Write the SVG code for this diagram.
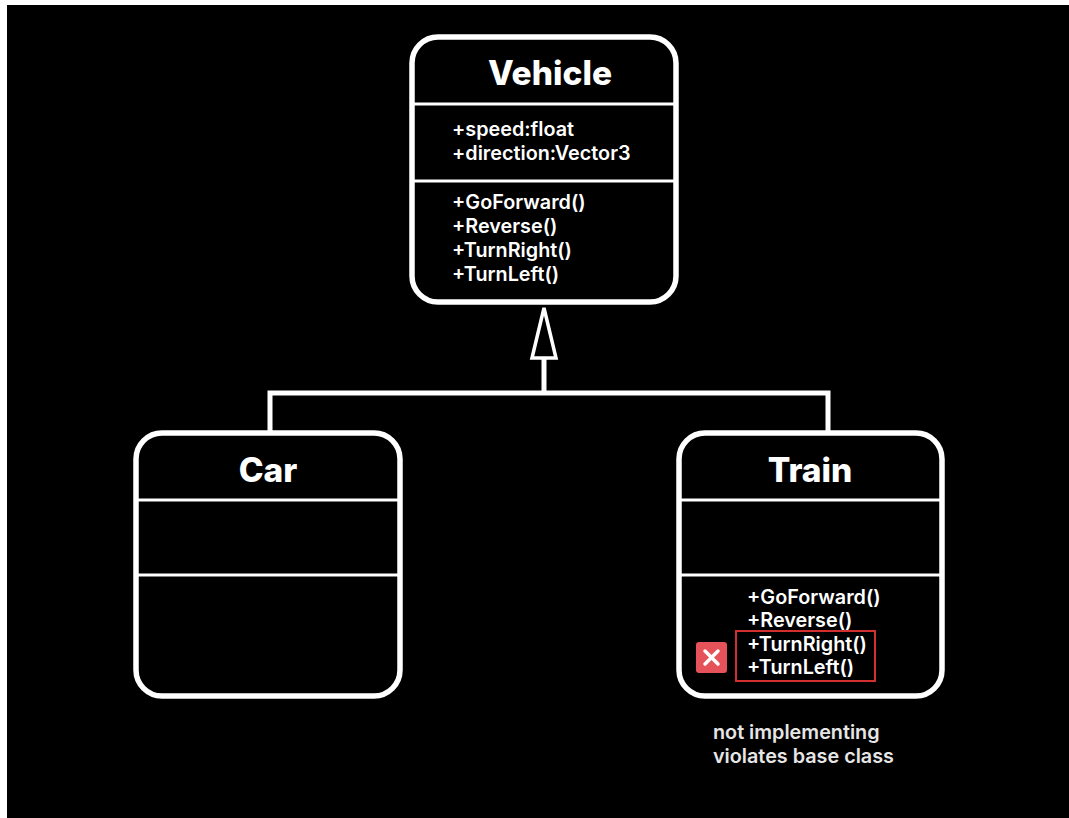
<svg xmlns="http://www.w3.org/2000/svg" width="1069" height="818" viewBox="0 0 1069 818">
<style>
.box{fill:#000;stroke:#fff;stroke-width:5.5}
.div{stroke:#fff;stroke-width:3}
.title{font-family:Inter,"Liberation Sans",sans-serif;font-weight:800;font-size:33.5px;fill:#fff;text-anchor:middle}
.m{font-family:Inter,"Liberation Sans",sans-serif;font-weight:600;font-size:19.8px;fill:#fff}
.note{font-family:Inter,"Liberation Sans",sans-serif;font-weight:600;font-size:19.8px;fill:#e6e6e6}
.conn{fill:none;stroke:#fff;stroke-width:5}
</style>
<rect x="0" y="0" width="1069" height="818" fill="#fff"/>
<rect x="7" y="5" width="1062" height="813" fill="#000"/>
<g id="connectors">
<polyline class="conn" points="270,433 270,393 828,393 828,433"/>
<line class="conn" x1="544" y1="393" x2="544" y2="358"/>
<polygon points="544,308 532,358 556,358" fill="#000" stroke="#fff" stroke-width="3.5" stroke-linejoin="miter"/>
</g>
<g id="vehicle">
<rect class="box" x="412" y="37" width="264" height="265" rx="26"/>
<line class="div" x1="413" y1="104" x2="675" y2="104"/>
<line class="div" x1="413" y1="181" x2="675" y2="181"/>
<text class="title" x="550" y="85">Vehicle</text>
<text class="m" x="452" y="136">+speed:float</text>
<text class="m" x="452" y="160">+direction:Vector3</text>
<text class="m" x="452" y="209">+GoForward()</text>
<text class="m" x="452" y="233">+Reverse()</text>
<text class="m" x="452" y="257">+TurnRight()</text>
<text class="m" x="452" y="281">+TurnLeft()</text>
</g>
<g id="car">
<rect class="box" x="136" y="433" width="264" height="263" rx="26"/>
<line class="div" x1="137" y1="500" x2="399" y2="500"/>
<line class="div" x1="137" y1="575" x2="399" y2="575"/>
<text class="title" x="268" y="482">Car</text>
</g>
<g id="train">
<rect class="box" x="679" y="433" width="263" height="263" rx="26"/>
<line class="div" x1="680" y1="500" x2="941" y2="500"/>
<line class="div" x1="680" y1="575" x2="941" y2="575"/>
<text class="title" x="810" y="482">Train</text>
<text class="m" x="747" y="604">+GoForward()</text>
<text class="m" x="747" y="627">+Reverse()</text>
<text class="m" x="747" y="651">+TurnRight()</text>
<text class="m" x="747" y="674">+TurnLeft()</text>
<rect x="736" y="631" width="139" height="50" fill="none" stroke="#d32f2f" stroke-width="2"/>
<rect x="696" y="642" width="31" height="31" rx="3" fill="#e5525a"/>
<path d="M705,651 L718,664 M718,651 L705,664" stroke="#fff" stroke-width="3.5" stroke-linecap="round"/>
</g>
<g id="note">
<text class="note" x="713" y="739">not implementing</text>
<text class="note" x="713" y="763">violates base class</text>
</g>
</svg>
